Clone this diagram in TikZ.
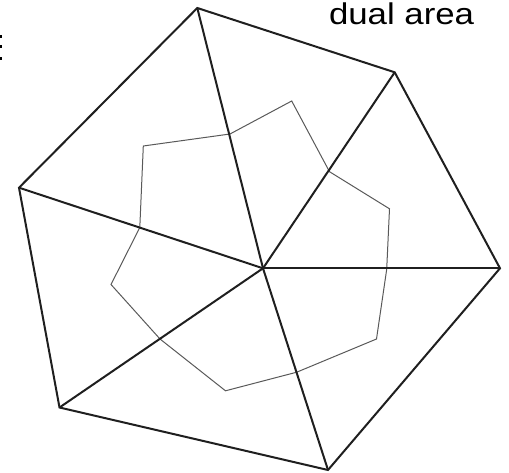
\documentclass[tikz,border=0pt]{standalone}
\usepackage{fontspec}
\setmainfont{Liberation Sans}
\begin{document}
\begin{tikzpicture}[x=1pt,y=-1pt,
  primal/.style={line width=2pt,draw=black!88,line join=miter},
  dualcell/.style={line width=1pt,draw=black!65,line join=miter},
  dotmark/.style={fill=black,draw=none}]
\useasboundingbox (0,0) rectangle (509,473);
% primal vertices
\coordinate (C) at (263,268.3);
\coordinate (T) at (197.3,8);
\coordinate (TR) at (394.7,72.3);
\coordinate (R) at (500,268.3);
\coordinate (B) at (328,470);
\coordinate (BL) at (59.5,407.5);
\coordinate (L) at (19,187.7);
% dual polygon vertices
\coordinate (d1) at (143.3,146);
\coordinate (d2) at (230,134);
\coordinate (d3) at (291.7,101);
\coordinate (d4) at (329.5,171.7);
\coordinate (d5) at (389.5,208.8);
\coordinate (d6) at (386.7,269.3);
\coordinate (d7) at (376.5,339);
\coordinate (d8) at (296.7,372.2);
\coordinate (d9) at (225.5,390.8);
\coordinate (d10) at (160,339);
\coordinate (d11) at (111,284.5);
\coordinate (d12) at (139.8,227.5);
\draw[dualcell] (d1) -- (d2) -- (d3) -- (d4) -- (d5) -- (d6) -- (d7) -- (d8) -- (d9) -- (d10) -- (d11) -- (d12) -- cycle;
\draw[primal] (T) -- (TR) -- (R) -- (B) -- (BL) -- (L) -- cycle;
\foreach \v in {T,TR,R,B,BL,L} \draw[primal] (C) -- (\v);
\node[anchor=base west,inner sep=0pt,font=\fontsize{30}{36}\selectfont] (lbl) at (328.8,25) {\scalebox{1.16}[1]{dual area}};
\fill[dotmark] (0,35.2) rectangle (1.8,38.2);
\fill[dotmark] (0,45.2) rectangle (1.8,48.2);
\fill[dotmark] (0,56.8) rectangle (1.8,59.8);
\end{tikzpicture}
\end{document}
